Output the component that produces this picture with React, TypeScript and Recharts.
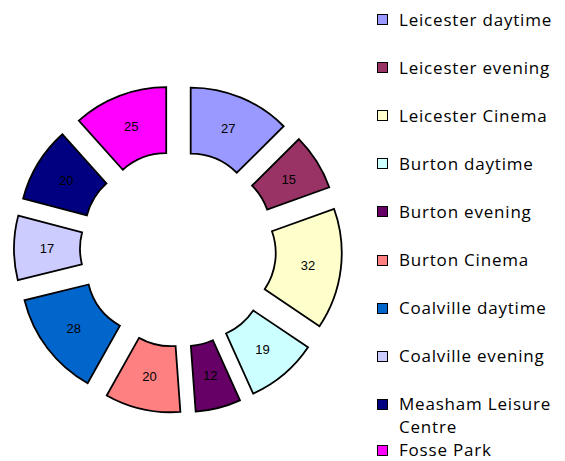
import React from "react";
import { PieChart, Pie, Cell, Sector, Legend } from "recharts";

const categories = [
  "Leicester daytime",
  "Leicester evening",
  "Leicester Cinema",
  "Burton daytime",
  "Burton evening",
  "Burton Cinema",
  "Coalville daytime",
  "Coalville evening",
  "Measham Leisure Centre",
  "Fosse Park",
];
const values = [27, 15, 32, 19, 12, 20, 28, 17, 20, 25];
const colors = [
  "#9999FF",
  "#993366",
  "#FFFFCC",
  "#CCFFFF",
  "#660066",
  "#FF8080",
  "#0066CC",
  "#CCCCFF",
  "#000080",
  "#FF00FF",
];

const data = categories.map((name, i) => ({ name, value: values[i] }));

const EXPLODE = 33;
const RAD = Math.PI / 180;

const ExplodedSector = (props: any) => {
  const { cx, cy, midAngle, innerRadius, outerRadius, startAngle, endAngle, fill } = props;
  const dx = EXPLODE * Math.cos(-midAngle * RAD);
  const dy = EXPLODE * Math.sin(-midAngle * RAD);
  return (
    <Sector
      cx={cx + dx}
      cy={cy + dy}
      innerRadius={innerRadius}
      outerRadius={outerRadius}
      startAngle={startAngle}
      endAngle={endAngle}
      fill={fill}
      stroke="#000"
      strokeWidth={1.8}
    />
  );
};

const renderLabel = (props: any) => {
  const { cx, cy, midAngle, innerRadius, outerRadius, value } = props;
  const r = (innerRadius + outerRadius) / 2 + EXPLODE;
  const x = cx + r * Math.cos(-midAngle * RAD);
  const y = cy + r * Math.sin(-midAngle * RAD);
  return (
    <text
      x={x}
      y={y}
      textAnchor="middle"
      dominantBaseline="central"
      fontFamily="'Liberation Sans', Arial, sans-serif"
      fontSize={13}
      fill="#000"
    >
      {value}
    </text>
  );
};

const LegendContent = () => (
  <div style={{ position: "relative", width: 188, height: 461 }}>
    {categories.map((name, i) => {
      const last = i === categories.length - 1;
      const centerY = last ? 449.5 : 19 + i * 48.1;
      const lh = last ? 16 : 23;
      return (
        <div
          key={name}
          style={{ position: "absolute", left: 0, top: centerY - lh / 2, display: "flex", alignItems: "flex-start" }}
        >
          <div
            style={{
              width: 9,
              height: 9,
              marginTop: lh / 2 - 5,
              background: colors[i],
              border: "1px solid #000",
              flex: "none",
            }}
          />
          <div
            style={{
              marginLeft: 11,
              width: 166,
              fontFamily: "'Open Sans', sans-serif",
              fontSize: 17,
              letterSpacing: "0.8px",
              lineHeight: `${lh}px`,
              color: "#000",
              whiteSpace: "normal",
            }}
          >
            {name}
          </div>
        </div>
      );
    })}
  </div>
);

export default function App() {
  return (
    <div style={{ position: "absolute", left: 0, top: 0, width: 565, height: 461, background: "#fff" }}>
      <PieChart width={565} height={461} margin={{ top: 0, right: 0, bottom: 0, left: 0 }}>
        <Pie
          data={data}
          dataKey="value"
          nameKey="name"
          cx={178}
          cy={249}
          innerRadius={65}
          outerRadius={131}
          startAngle={90}
          endAngle={-270}
          isAnimationActive={false}
          label={renderLabel}
          labelLine={false}
          shape={ExplodedSector}
          activeShape={ExplodedSector}
          inactiveShape={ExplodedSector}
        >
          {data.map((d, i) => (
            <Cell key={d.name} fill={colors[i]} />
          ))}
        </Pie>
        <Legend
          layout="vertical"
          align="right"
          verticalAlign="top"
          content={<LegendContent />}
          wrapperStyle={{ position: "absolute", left: 377, top: 0, width: 188, height: 461 }}
        />
      </PieChart>
    </div>
  );
}
